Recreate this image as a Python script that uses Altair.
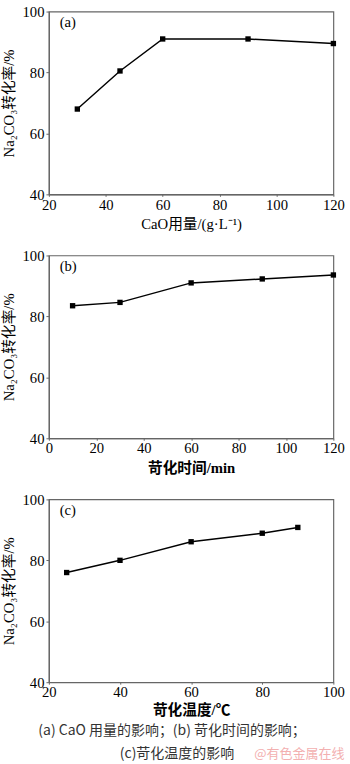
import altair as alt
import pandas as pd

# Panel (a): CaO dosage
a_x = [30, 45, 60, 90, 120]
a_y = [68.0, 80.5, 91.0, 91.0, 89.5]
# Panel (b): causticization time
b_x = [10, 30, 60, 90, 120]
b_y = [83.5, 84.6, 91.0, 92.3, 93.6]
# Panel (c): causticization temperature
c_x = [25, 40, 60, 80, 90]
c_y = [76.0, 80.0, 86.1, 88.9, 90.8]

y_title = "Na₂CO₃转化率/%"
y_ticks = [40, 60, 80, 100]
captions = ["(a) CaO 用量的影响；(b)  苛化时间的影响；", "(c)苛化温度的影响"]
watermark = "@有色金属在线"

FONT = "Liberation Serif, Noto Sans CJK SC, serif"
CJK = "Noto Sans CJK SC, sans-serif"
W, H = 291, 187


def panel(xs, ys, xdom, xticks, xtitle, label, bold, tpad):
    df = pd.DataFrame({"x": xs, "y": ys})
    x = alt.X("x:Q", scale=alt.Scale(domain=xdom, nice=False, zero=False),
              axis=alt.Axis(title=xtitle, values=xticks, labelFlush=False,
                            titleFontWeight="bold" if bold else "normal",
                            tickSize=2, labelPadding=1, titlePadding=tpad))
    y = alt.Y("y:Q", scale=alt.Scale(domain=[40, 100], nice=False, zero=False),
              axis=alt.Axis(title=y_title, values=y_ticks, labelFlush=False,
                            titleFontWeight="normal", tickSize=3, labelPadding=2,
                            titlePadding=6))
    base = alt.Chart(df)
    line = base.mark_line(color="black", strokeWidth=1.5, clip=False).encode(x=x, y=y)
    pts = base.mark_square(color="black", size=30, opacity=1, clip=False).encode(x=x, y=y)
    lab = alt.Chart(pd.DataFrame({"t": [label]})).mark_text(
        font=FONT, fontSize=15, align="left", baseline="middle", color="black"
    ).encode(text="t:N", x=alt.value(11), y=alt.value(11))
    return alt.layer(line, pts, lab).properties(width=W, height=H)


pa = panel(a_x, a_y, [20, 120], [20, 40, 60, 80, 100, 120], "CaO用量/(g·L⁻¹)", "(a)", False, 4.5)
pb = panel(b_x, b_y, [0, 120], [0, 20, 40, 60, 80, 100, 120], "苛化时间/min", "(b)", True, 4.5)
pc = panel(c_x, c_y, [20, 100], [20, 40, 60, 80, 100], "苛化温度/℃", "(c)", True, 3)

cap_df = pd.DataFrame({"t": captions})
cap1 = alt.Chart(cap_df.iloc[[0]]).mark_text(
    font=CJK, fontSize=14.3, align="center", baseline="middle", color="#333"
).encode(text="t:N", x=alt.value(126), y=alt.value(237))
cap2 = alt.Chart(cap_df.iloc[[1]]).mark_text(
    font=CJK, fontSize=14.3, align="center", baseline="middle", color="#333"
).encode(text="t:N", x=alt.value(131), y=alt.value(261))
wm = alt.Chart(pd.DataFrame({"t": [watermark]})).mark_text(
    font=CJK, fontSize=13.3, align="left", baseline="middle", color="#f3b0b0"
).encode(text="t:N", x=alt.value(210), y=alt.value(261))

pc = alt.layer(pc, cap1, cap2, wm)

chart = alt.vconcat(pa, pb, pc, spacing=15.5).properties(
    padding={"left": 0, "top": -5, "right": 5, "bottom": 0},
    background="white"
).configure_view(stroke="#666", strokeWidth=1.2).configure_axis(
    labelFont=FONT, titleFont=FONT, labelFontSize=15, titleFontSize=15,
    labelColor="black", titleColor="black", domainColor="#666", tickColor="#666",
    domainWidth=1.2, grid=False
)

chart.save("out.html", embed_options={"renderer": "svg", "actions": False})
